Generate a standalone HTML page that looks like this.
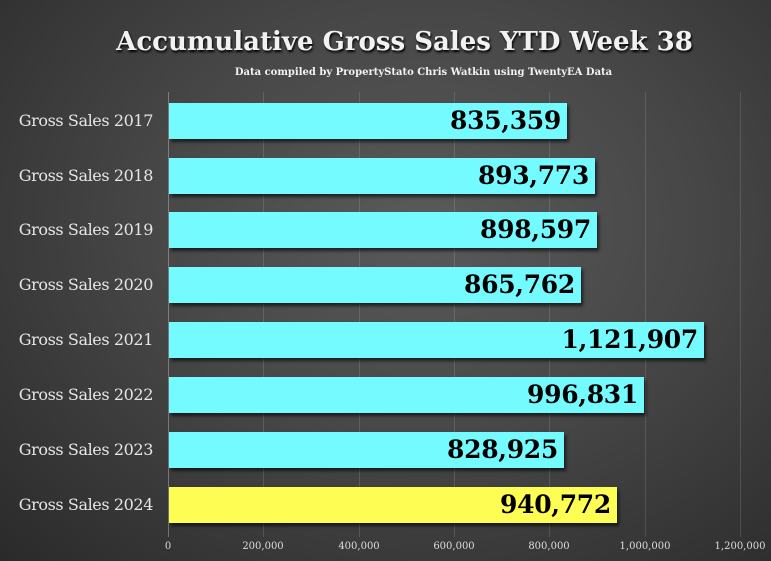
<!DOCTYPE html>
<html><head><style>
html,body{margin:0;padding:0}
body{width:771px;height:561px;overflow:hidden;background:radial-gradient(ellipse at 55% 40%,#5a5a5a 0%,#474747 45%,#2a2a2a 100%);font-family:"DejaVu Serif","Liberation Serif",serif;position:relative}
.t{position:absolute;left:0;width:771px;text-align:center;color:#f2f2f2}
.grid{position:absolute;top:92px;height:445px;width:1px;background:rgba(255,255,255,0.13)}
.bar{position:absolute;left:169px;height:36px;background:#74fbff;box-shadow:2px 3px 3px rgba(0,0,0,0.6)}
.bar span{position:absolute;right:6px;top:0;line-height:36px;font-weight:bold;font-size:25px;color:#000;font-family:"DejaVu Serif",serif;letter-spacing:-0.3px}
.lab{position:absolute;left:0;width:153px;text-align:right;color:#e6e6e6;font-size:16px;font-family:"DejaVu Serif",serif;line-height:36px;letter-spacing:-0.4px}
.tick{position:absolute;top:541px;color:#ddd;font-size:10px;width:80px;margin-left:-40px;text-align:center;font-family:"DejaVu Serif",serif}
</style></head><body>
<div class="t" style="top:27px;font-size:26px;font-weight:bold;text-shadow:1px 2px 2px #000;left:19px">Accumulative Gross Sales YTD Week 38</div>
<div class="t" style="top:67px;font-size:10px;font-weight:bold;left:38px">Data compiled by PropertyStato Chris Watkin using TwentyEA Data</div>
<div class="grid" style="left:168px;background:rgba(255,255,255,0.3)"></div>
<div class="grid" style="left:263px"></div>
<div class="grid" style="left:359px"></div>
<div class="grid" style="left:454px"></div>
<div class="grid" style="left:549px"></div>
<div class="grid" style="left:645px"></div>
<div class="grid" style="left:740px"></div>

<div class="lab" style="top:103px">Gross Sales 2017</div><div class="bar" style="top:103px;width:398px"><span>835,359</span></div>
<div class="lab" style="top:158px">Gross Sales 2018</div><div class="bar" style="top:158px;width:426px"><span>893,773</span></div>
<div class="lab" style="top:212px">Gross Sales 2019</div><div class="bar" style="top:212px;width:428px"><span>898,597</span></div>
<div class="lab" style="top:267px">Gross Sales 2020</div><div class="bar" style="top:267px;width:412px"><span>865,762</span></div>
<div class="lab" style="top:322px">Gross Sales 2021</div><div class="bar" style="top:322px;width:535px"><span>1,121,907</span></div>
<div class="lab" style="top:377px">Gross Sales 2022</div><div class="bar" style="top:377px;width:475px"><span>996,831</span></div>
<div class="lab" style="top:432px">Gross Sales 2023</div><div class="bar" style="top:432px;width:395px"><span>828,925</span></div>
<div class="lab" style="top:487px">Gross Sales 2024</div><div class="bar" style="top:487px;width:448px;background:#fdfd53"><span>940,772</span></div>

<div class="tick" style="left:168px">0</div>
<div class="tick" style="left:263px">200,000</div>
<div class="tick" style="left:359px">400,000</div>
<div class="tick" style="left:454px">600,000</div>
<div class="tick" style="left:549px">800,000</div>
<div class="tick" style="left:645px">1,000,000</div>
<div class="tick" style="left:740px">1,200,000</div>
</body></html>
